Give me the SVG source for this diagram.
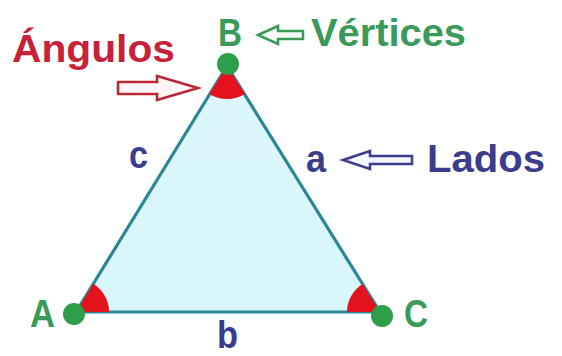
<svg xmlns="http://www.w3.org/2000/svg" width="562" height="356" viewBox="0 0 562 356">
<style>
.t{font-family:"Liberation Sans","DejaVu Sans",sans-serif;font-weight:bold;font-size:38px}
.red{fill:#c8223a}
.grn{fill:#3a9a5a}
.blu{fill:#3c3c8e}
.ang{fill:#e3121c}
.vtx{fill:#2d9e4a}
.harr{stroke-width:2.5;stroke-linejoin:miter}
</style>
<defs>
<linearGradient id="fillg" x1="0" y1="0" x2="0" y2="1">
<stop offset="0" stop-color="#dcf7fb"/>
<stop offset="1" stop-color="#d8f6fb"/>
</linearGradient>
</defs>
<rect width="562" height="356" fill="#ffffff"/>
<g id="connectors">
<polygon id="triangle" points="227,66 76,312 380,312" fill="url(#fillg)" stroke="#2b8797" stroke-width="3.2" stroke-linejoin="round"/>
<polygon class="harr" points="118,82 157,82 157,76 198,88 157,100 157,94 118,94" fill="#fff4f6" stroke="#b82838"/>
<polygon class="harr" points="258,35 278,26 278,31 303,31 303,39 278,39 278,44" fill="#f4fbf6" stroke="#3a9a5a"/>
<polygon class="harr" points="343,160 370,151 370,156 412,156 412,164 370,164 370,169" fill="#f6f6ff" stroke="#3c3c8e"/>
</g>
<g id="angles">
<path class="ang" d="M227,66 L209.2,94 A34,34 0 0 0 245,94 Z"/>
<path class="ang" d="M76,312 L109,312 A33,33 0 0 0 93.2,283.8 Z"/>
<path class="ang" d="M380,312 L347,312 A33,33 0 0 1 362.6,284 Z"/>
</g>
<g id="vertexB"><circle class="vtx" cx="228" cy="64" r="11"/><text class="t grn" x="218" y="46" textLength="24" lengthAdjust="spacingAndGlyphs">B</text></g>
<g id="vertexA"><circle class="vtx" cx="74" cy="314" r="11"/><text class="t grn" x="30" y="327" textLength="25" lengthAdjust="spacingAndGlyphs">A</text></g>
<g id="vertexC"><circle class="vtx" cx="382" cy="316" r="11"/><text class="t grn" x="404" y="327" textLength="24" lengthAdjust="spacingAndGlyphs">C</text></g>
<g id="labelVertices"><text class="t grn" x="311" y="46" textLength="155" lengthAdjust="spacingAndGlyphs">Vértices</text></g>
<g id="labelAngulos"><text class="t red" x="12" y="62" textLength="163" lengthAdjust="spacingAndGlyphs">Ángulos</text></g>
<g id="labelLados"><text class="t blu" x="427" y="172" textLength="118" lengthAdjust="spacingAndGlyphs">Lados</text></g>
<g id="sideA"><text class="t blu" x="306" y="172" textLength="20" lengthAdjust="spacingAndGlyphs">a</text></g>
<g id="sideB"><text class="t blu" x="217" y="348" textLength="21" lengthAdjust="spacingAndGlyphs">b</text></g>
<g id="sideC"><text class="t blu" x="129" y="168" textLength="19" lengthAdjust="spacingAndGlyphs">c</text></g>
</svg>
